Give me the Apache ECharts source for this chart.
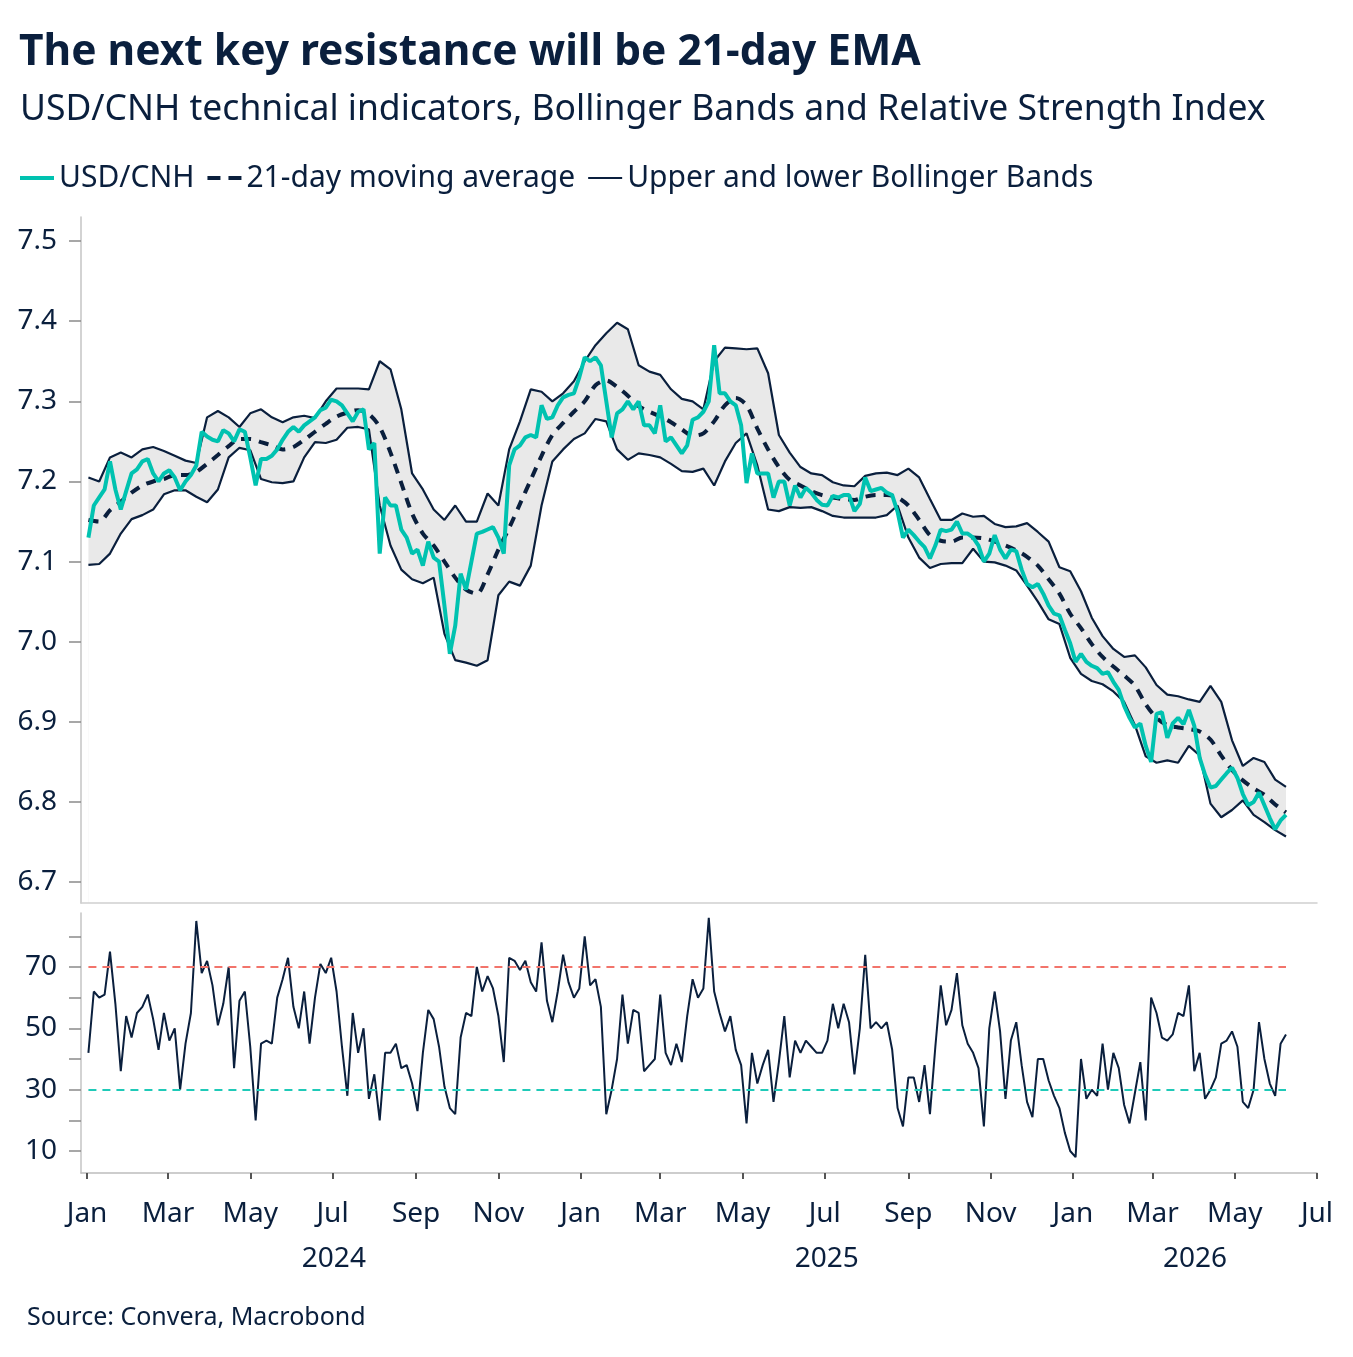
<!DOCTYPE html>
<html>
<head>
<meta charset="utf-8">
<title>USD/CNH Bollinger Bands and RSI</title>
<script src="https://cdn.jsdelivr.net/npm/echarts@6.0.0/dist/echarts.min.js"></script>
<style>
  html, body { margin: 0; padding: 0; background: #fff; }
  #main { width: 1353px; height: 1357px; }
</style>
</head>
<body>
<div id="main"></div>
<script>
// USD/CNH, read every 4 days from 2 Jan 2024
var usdCnh = [
  7.13, 7.17, 7.18, 7.19, 7.225, 7.19, 7.165, 7.188, 7.21, 7.215,
  7.225, 7.228, 7.21, 7.20, 7.21, 7.214, 7.205, 7.189, 7.20, 7.208,
  7.22, 7.262, 7.256, 7.252, 7.25, 7.264, 7.26, 7.25, 7.265, 7.262,
  7.23, 7.195, 7.228, 7.228, 7.232, 7.24, 7.252, 7.262, 7.268, 7.262,
  7.27, 7.275, 7.28, 7.289, 7.292, 7.302, 7.30, 7.295, 7.285, 7.275,
  7.287, 7.29, 7.24, 7.248, 7.11, 7.18, 7.17, 7.17, 7.14, 7.13,
  7.11, 7.115, 7.095, 7.125, 7.105, 7.10, 7.045, 6.985, 7.02, 7.085,
  7.065, 7.10, 7.135, 7.137, 7.14, 7.143, 7.13, 7.11, 7.22, 7.24,
  7.245, 7.255, 7.258, 7.255, 7.295, 7.278, 7.28, 7.295, 7.305, 7.308,
  7.31, 7.33, 7.355, 7.35, 7.355, 7.345, 7.30, 7.255, 7.285, 7.29,
  7.30, 7.29, 7.30, 7.27, 7.27, 7.26, 7.295, 7.25, 7.255, 7.245,
  7.235, 7.245, 7.277, 7.28, 7.287, 7.30, 7.37, 7.31, 7.31, 7.30,
  7.295, 7.27, 7.198, 7.235, 7.21, 7.21, 7.21, 7.18, 7.20, 7.20,
  7.17, 7.195, 7.18, 7.192, 7.186, 7.177, 7.171, 7.17, 7.182, 7.18,
  7.183, 7.183, 7.163, 7.172, 7.205, 7.188, 7.19, 7.192, 7.186, 7.183,
  7.162, 7.13, 7.14, 7.133, 7.125, 7.118, 7.104, 7.12, 7.14, 7.138,
  7.14, 7.15, 7.135, 7.135, 7.13, 7.12, 7.10, 7.11, 7.133, 7.115,
  7.104, 7.115, 7.113, 7.09, 7.072, 7.068, 7.072, 7.06, 7.045, 7.035,
  7.033, 7.015, 6.998, 6.975, 6.985, 6.975, 6.97, 6.967, 6.96, 6.962,
  6.95, 6.94, 6.92, 6.905, 6.893, 6.898, 6.87, 6.85, 6.91, 6.912,
  6.88, 6.898, 6.905, 6.897, 6.915, 6.895, 6.855, 6.834, 6.818, 6.82,
  6.828, 6.836, 6.843, 6.83, 6.81, 6.796, 6.80, 6.812, 6.796, 6.78,
  6.766, 6.777, 6.784
]

// 14-day RSI, same dates as usdCnh
var rsi = [
  42, 62, 60, 61, 75, 58, 36, 54, 47, 55,
  57, 61, 53, 43, 55, 46, 50, 30, 45, 55,
  85, 68, 72, 64, 51, 58, 70, 37, 59, 62,
  44, 20, 45, 46, 45, 60, 66, 73, 57, 50,
  62, 45, 60, 71, 68, 73, 62, 44, 28, 55,
  42, 50, 27, 35, 20, 42, 42, 45, 37, 38,
  32, 23, 42, 56, 53, 44, 31, 24, 22, 47,
  55, 54, 70, 62, 67, 63, 54, 39, 73, 72,
  69, 72, 65, 62, 78, 59, 52, 62, 74, 65,
  60, 63, 80, 64, 66, 57, 22, 30, 40, 61,
  45, 56, 55, 36, 38, 40, 61, 42, 38, 45,
  39, 54, 66, 60, 63, 86, 62, 55, 49, 54,
  43, 38, 19, 42, 32, 38, 43, 26, 39, 54,
  34, 46, 42, 46, 44, 42, 42, 46, 58, 50,
  58, 52, 35, 50, 74, 50, 52, 50, 52, 43,
  24, 18, 34, 34, 26, 38, 22, 44, 64, 51,
  56, 68, 51, 45, 42, 37, 18, 50, 62, 49,
  27, 46, 52, 38, 26, 21, 40, 40, 33, 28,
  24, 16, 10, 8, 40, 27, 30, 28, 45, 30,
  42, 37, 25, 19, 29, 39, 20, 60, 55, 47,
  46, 48, 55, 54, 64, 36, 42, 27, 30, 34,
  45, 46, 49, 44, 26, 24, 30, 52, 40, 32,
  28, 45, 48
]

// bands and 21-day average, read every 8 days from 2 Jan 2024
var upperBand = [
  7.205, 7.20, 7.23, 7.236, 7.23, 7.24, 7.243, 7.238, 7.232, 7.226,
  7.223, 7.28, 7.288, 7.28, 7.268, 7.285, 7.29, 7.28, 7.274, 7.28,
  7.282, 7.279, 7.30, 7.316, 7.316, 7.316, 7.315, 7.35, 7.34, 7.29,
  7.21, 7.19, 7.165, 7.152, 7.17, 7.15, 7.15, 7.185, 7.17, 7.24,
  7.275, 7.315, 7.312, 7.30, 7.31, 7.325, 7.35, 7.37, 7.385, 7.398,
  7.39, 7.345, 7.337, 7.333, 7.315, 7.303, 7.30, 7.29, 7.35, 7.367,
  7.366, 7.365, 7.366, 7.335, 7.258, 7.236, 7.218, 7.21, 7.208, 7.199,
  7.195, 7.194, 7.207, 7.21, 7.211, 7.208, 7.216, 7.205, 7.178, 7.152,
  7.152, 7.16, 7.156, 7.157, 7.147, 7.143, 7.144, 7.148, 7.137, 7.125,
  7.093, 7.088, 7.063, 7.03, 7.007, 6.991, 6.981, 6.983, 6.968, 6.946,
  6.934, 6.932, 6.928, 6.925, 6.945, 6.925, 6.877, 6.845, 6.855, 6.85,
  6.828, 6.819
]

var lowerBand = [
  7.096, 7.097, 7.11, 7.135, 7.153, 7.158, 7.165, 7.184, 7.189, 7.189,
  7.181, 7.174, 7.19, 7.23, 7.242, 7.239, 7.203, 7.199, 7.198, 7.20,
  7.23, 7.249, 7.248, 7.252, 7.267, 7.268, 7.265, 7.17, 7.12, 7.09,
  7.078, 7.073, 7.08, 7.01, 6.977, 6.974, 6.97, 6.977, 7.058, 7.075,
  7.07, 7.095, 7.17, 7.225, 7.24, 7.253, 7.26, 7.278, 7.275, 7.24,
  7.227, 7.235, 7.233, 7.23, 7.222, 7.213, 7.212, 7.216, 7.195, 7.225,
  7.248, 7.26, 7.22, 7.165, 7.163, 7.168, 7.167, 7.168, 7.163, 7.157,
  7.155, 7.155, 7.155, 7.155, 7.158, 7.17, 7.13, 7.105, 7.092, 7.097,
  7.098, 7.098, 7.116, 7.10, 7.099, 7.095, 7.089, 7.07, 7.05, 7.028,
  7.022, 6.98, 6.96, 6.951, 6.947, 6.938, 6.925, 6.896, 6.857, 6.849,
  6.852, 6.849, 6.87, 6.858, 6.798, 6.781, 6.79, 6.802, 6.784, 6.775,
  6.765, 6.757
]

var movingAvg = [
  7.152, 7.15, 7.164, 7.175, 7.186, 7.195, 7.20, 7.203, 7.208, 7.208,
  7.212, 7.222, 7.233, 7.244, 7.253, 7.253, 7.249, 7.245, 7.24, 7.243,
  7.252, 7.262, 7.272, 7.281, 7.286, 7.289, 7.284, 7.268, 7.236, 7.198,
  7.16, 7.135, 7.12, 7.10, 7.08, 7.065, 7.06, 7.084, 7.115, 7.142,
  7.172, 7.202, 7.232, 7.258, 7.273, 7.287, 7.30, 7.32, 7.326, 7.318,
  7.307, 7.294, 7.287, 7.281, 7.274, 7.265, 7.257, 7.26, 7.275, 7.295,
  7.304, 7.295, 7.266, 7.24, 7.218, 7.202, 7.195, 7.188, 7.183, 7.18,
  7.178, 7.177, 7.181, 7.183, 7.183, 7.18, 7.17, 7.152, 7.133, 7.126,
  7.125, 7.13, 7.13, 7.129, 7.125, 7.12, 7.114, 7.106, 7.095, 7.078,
  7.06, 7.035, 7.017, 6.997, 6.981, 6.969, 6.958, 6.945, 6.922, 6.905,
  6.896, 6.893, 6.891, 6.888, 6.878, 6.858, 6.84, 6.827, 6.817, 6.809,
  6.797, 6.787
]

var priceTicks = [6.7, 6.8, 6.9, 7.0, 7.1, 7.2, 7.3, 7.4, 7.5]
var rsiTicks = [10, 20, 30, 40, 50, 60, 70, 80]
var rsiLabels = [10, 30, 50, 70]
var rsiLevels = [70, 30]
var monthNames = ['Jan', 'Feb', 'Mar', 'Apr', 'May', 'Jun', 'Jul', 'Aug', 'Sep', 'Oct', 'Nov', 'Dec']
var years = [2024, 2025, 2026]

var DAY = 86400000
var startDate = Date.UTC(2024, 0, 2)
var xMin = Date.UTC(2023, 11, 27, 12)
var xMax = Date.UTC(2026, 6, 1)

var navy = '#0a1f3d'
var teal = '#00c2b0'
var font = '"Noto Sans", "Open Sans", sans-serif'

function withDates (values, stepDays) {
  return values.map(function (v, i) { return [startDate + i * stepDays * DAY, v] })
}

var cnhData = withDates(usdCnh, 4)
var rsiData = withDates(rsi, 4)
var upperData = withDates(upperBand, 8)
var lowerData = withDates(lowerBand, 8)
var maData = withDates(movingAvg, 8)

// tick every second month, year label in the middle of the visible part of each year
var monthTicks = []
for (var m = 0; Date.UTC(2024, m, 1) <= xMax; m += 2) monthTicks.push(Date.UTC(2024, m, 1))
var yearMids = years.map(function (y) {
  var a = Math.max(xMin, Date.UTC(y, 0, 1))
  var b = Math.min(xMax, Date.UTC(y + 1, 0, 1))
  return (a + b) / 2
})

var rsiFirst = rsiData[0][0]
var rsiLast = rsiData[rsiData.length - 1][0]

var myChart = echarts.init(document.getElementById('main'))

var lineBase = { type: 'line', symbol: 'none', showSymbol: false, animation: false, xAxisIndex: 0, yAxisIndex: 0 }
var axisFont = { fontSize: 28, color: navy, fontFamily: font }

var option = {
  animation: false,
  backgroundColor: '#fff',
  textStyle: { fontFamily: font, color: navy },
  title: [
    { text: 'The next key resistance will be 21-day EMA', left: 14, top: 26,
      textStyle: { fontFamily: font, fontSize: 42.5, fontWeight: 'bold', color: navy, lineHeight: 44 } },
    { text: 'USD/CNH technical indicators, Bollinger Bands and Relative Strength Index', left: 15, top: 86,
      textStyle: { fontFamily: font, fontSize: 35.5, fontWeight: 'normal', color: navy, lineHeight: 38 } },
    { text: 'Source: Convera, Macrobond', left: 22, top: 1299,
      textStyle: { fontFamily: font, fontSize: 25, fontWeight: 'normal', color: navy, lineHeight: 28 } }
  ],
  legend: {
    left: 15,
    top: 158,
    itemWidth: 34,
    itemHeight: 4,
    itemGap: 13,
    textStyle: { fontFamily: font, fontSize: 30, color: navy },
    data: [
      { name: 'USD/CNH', icon: 'path://M0,0 L34,0 L34,4 L0,4 Z' },
      { name: '21-day moving average', icon: 'path://M0,0 L13,0 L13,4 L0,4 Z M21,0 L34,0 L34,4 L21,4 Z' },
      { name: 'Upper and lower Bollinger Bands', icon: 'path://M0,0 M0,1.1 L34,1.1 L34,2.9 L0,2.9 Z M34,4' }
    ]
  },
  grid: [
    { left: 81, right: 36, top: 217, height: 686 },
    { left: 81, right: 36, top: 913, height: 260 }
  ],
  xAxis: [
    {
      type: 'value', gridIndex: 0, min: xMin, max: xMax, z: 10,
      axisLine: { show: true, onZero: false, lineStyle: { color: '#cfcfcf', width: 1.5 } },
      axisTick: { show: false }, axisLabel: { show: false }, splitLine: { show: false }
    },
    {
      type: 'value', gridIndex: 1, min: xMin, max: xMax, position: 'bottom',
      axisLine: { show: true, onZero: false, lineStyle: { color: '#bdbdbd', width: 1.5 } },
      axisTick: { show: true, customValues: monthTicks, length: 6, lineStyle: { color: '#555', width: 2 } },
      axisLabel: Object.assign({
        customValues: monthTicks, margin: 27,
        formatter: function (v) { return monthNames[new Date(v).getUTCMonth()] }
      }, axisFont),
      splitLine: { show: false }
    },
    {
      type: 'value', gridIndex: 1, min: xMin, max: xMax, position: 'bottom', offset: 47,
      axisLine: { show: false }, axisTick: { show: false },
      axisLabel: Object.assign({
        customValues: yearMids, margin: 25,
        formatter: function (v) { return String(new Date(v).getUTCFullYear()) }
      }, axisFont),
      splitLine: { show: false }
    }
  ],
  yAxis: [
    {
      type: 'value', gridIndex: 0, min: 6.674, max: 7.53, z: 10,
      axisLine: { show: true, onZero: false, lineStyle: { color: '#c4c4c4', width: 1.5 } },
      axisTick: { show: true, customValues: priceTicks, length: 12, lineStyle: { color: '#8a8a8a', width: 1.5 } },
      axisLabel: Object.assign({
        customValues: priceTicks, margin: 24,
        formatter: function (v) { return v.toFixed(1) }
      }, axisFont),
      splitLine: { show: false }
    },
    {
      type: 'value', gridIndex: 1, min: 2.83, max: 87.6,
      axisLine: { show: true, onZero: false, lineStyle: { color: '#c4c4c4', width: 1.5 } },
      axisTick: { show: true, customValues: rsiTicks, length: 12, lineStyle: { color: '#8a8a8a', width: 1.5 } },
      axisLabel: Object.assign({
        customValues: rsiLabels, margin: 24,
        formatter: function (v) { return String(Math.round(v)) }
      }, axisFont),
      splitLine: { show: false }
    }
  ],
  series: [
    // grey band: fill under the upper band, then mask under the lower band with white
    Object.assign({}, lineBase, {
      name: 'bandFill', silent: true,
      lineStyle: { opacity: 0 }, areaStyle: { color: '#e9e9e9', opacity: 1, origin: 'start' }, data: upperData
    }),
    Object.assign({}, lineBase, {
      name: 'bandMask', silent: true,
      lineStyle: { opacity: 0 }, areaStyle: { color: '#ffffff', opacity: 1, origin: 'start' }, data: lowerData
    }),
    Object.assign({}, lineBase, {
      name: 'Upper and lower Bollinger Bands',
      color: navy, lineStyle: { color: navy, width: 2.2 }, data: upperData
    }),
    Object.assign({}, lineBase, {
      name: 'Upper and lower Bollinger Bands',
      color: navy, lineStyle: { color: navy, width: 2.2 }, data: lowerData
    }),
    Object.assign({}, lineBase, {
      name: '21-day moving average', smooth: 0.3,
      color: navy, lineStyle: { color: navy, width: 4, type: [10, 8] }, data: maData
    }),
    Object.assign({}, lineBase, {
      name: 'USD/CNH',
      color: teal, lineStyle: { color: teal, width: 4 }, data: cnhData
    }),
    Object.assign({}, lineBase, {
      name: 'RSI', xAxisIndex: 1, yAxisIndex: 1,
      color: navy, lineStyle: { color: navy, width: 2 }, data: rsiData,
      markLine: {
        symbol: 'none', silent: true, animation: false, label: { show: false },
        data: [
          [{ coord: [rsiFirst, rsiLevels[0]], lineStyle: { color: '#f2746b', width: 2, type: [8, 6] } },
            { coord: [rsiLast, rsiLevels[0]] }],
          [{ coord: [rsiFirst, rsiLevels[1]], lineStyle: { color: '#1fcab8', width: 2, type: [8, 6] } },
            { coord: [rsiLast, rsiLevels[1]] }]
        ]
      }
    })
  ]
}

myChart.setOption(option)
</script>
</body>
</html>
